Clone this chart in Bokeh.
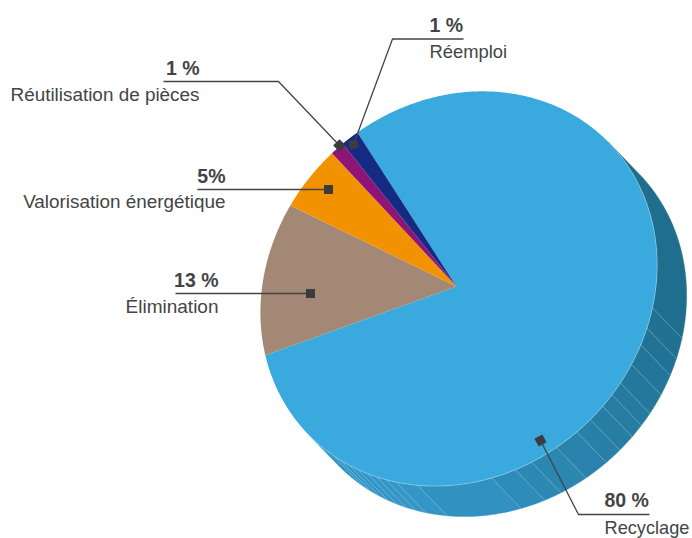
import numpy as np
from bokeh.plotting import figure
from bokeh.models import Range1d
from bokeh.core.properties import value
from bokeh.embed import file_html
from bokeh.resources import INLINE

slice_names = ["Recyclage", "Élimination", "Valorisation énergétique", "Réutilisation de pièces", "Réemploi"]
slice_values = [80.0, 12.4, 5.1, 1.1, 1.4]
slice_colors = ["#3aa9dd", "#a38876", "#f39200", "#8f1478", "#152a82"]
pct_labels = ["80 %", "13 %", "5%", "1 %", "1 %"]

# Side band edges (ellipse parameter, degrees)
band_edges = [0, 54, 60, 65, 71, 77, 81, 85, 90, 95, 102, 110, 115, 122, 143.5, 150, 153, 156, 159, 162, 165, 168, 171, 180]

CX, CY, A, B, OX, OY = 458.3, 288.2, 210.0, 186.0, 29.5, 30.5
AX, AY = 456.0, 286.0
SY = 0.995
START = -79.2
S = np.sqrt(0.5)

def pt(t_deg, dx=0.0, dy=0.0):
    t = np.radians(np.asarray(t_deg, dtype=float))
    u, v = A * np.cos(t), B * np.sin(t)
    return CX + dx + S * (u + v), CY + dy + SY * S * (v - u)

p = figure(width=692, height=538, x_range=Range1d(0, 692), y_range=Range1d(538, 0),
           output_backend="svg", toolbar_location=None, min_border=0,
           x_axis_location=None, y_axis_location=None, outline_line_color=None,
           background_fill_color="white", border_fill_color="white")
p.grid.visible = False
p.styles = {"position": "absolute", "left": "0px", "top": "0px"}

# side of the disc
c0, c1 = np.array([31, 110, 142]), np.array([51, 150, 198])
bx, by, bc = [], [], []
for a0, a1 in zip(band_edges[:-1], band_edges[1:]):
    ts = np.linspace(a0, a1, 24)
    fx, fy = pt(ts)
    kx, ky = pt(ts, OX, OY)
    bx.append(np.r_[fx, kx[::-1]])
    by.append(np.r_[fy, ky[::-1]])
    m = np.clip((0.5 * (a0 + a1) - 50) / 90, 0, 1)
    r, g, b = (c0 + (c1 - c0) * m).astype(int)
    bc.append(f"#{r:02x}{g:02x}{b:02x}")
p.patches(bx, by, fill_color=bc, line_color=bc, line_width=0.4)

# thin light lines between bands
lx, ly = [], []
for a in band_edges[1:-1]:
    x0, y0 = pt(a)
    x1, y1 = pt(a, OX, OY)
    lx.append([x0, x1])
    ly.append([y0, y1])
p.multi_line(lx, ly, line_color="#cfe6f2", line_alpha=0.4, line_width=0.6)

# front slices
apex = START
for val, col in zip(slice_values, slice_colors):
    span = val / sum(slice_values) * 360
    ts = np.linspace(apex, apex + span, max(4, int(span * 2)))
    x, y = pt(ts)
    p.patch(np.r_[AX, x], np.r_[AY, y], fill_color=col, line_color=None)
    apex += span

# light rim on front edge
rx, ry = pt(np.linspace(0, 180, 180))
p.line(rx, ry, line_color="#cfe6f2", line_alpha=0.6, line_width=0.7)

INK = "#444446"
FONT = value("Liberation Sans")

# leader lines
leaders_x = [[649, 578, 540], [175, 310], [197, 328], [163, 278, 339], [463, 392, 353]]
leaders_y = [[514, 514, 440], [293, 293], [189, 189], [81, 81, 145], [38.5, 38.5, 144]]
p.multi_line(leaders_x, leaders_y, line_color=INK, line_width=1.3)

# end markers
mx = [l[-1] for l in leaders_x]
my = [l[-1] for l in leaders_y]
angs = [0.5, 0, 0, 0.785, 0.35]
p.scatter(mx, my, marker="square", size=9, angle=angs, fill_color="#3c3c3e", line_color=None)

# labels
px = [604, 218, 225, 199, 429]
py = [506, 285.5, 181.5, 73.5, 31]
lxs = [604, 218, 225, 199, 429]
lys = [533.5, 312.5, 207.5, 100.5, 57.5]
lsizes = ["18.2px", "19px", "18.9px", "18.9px", "18.4px"]
aligns = ["left", "right", "right", "right", "left"]
SHIFT = -6.5
for i in range(5):
    p.text([px[i]], [py[i] + SHIFT], text=[pct_labels[i]], text_font=FONT, text_font_style="bold",
           text_font_size="19.5px", text_color=INK, text_align=aligns[i], text_baseline="alphabetic")
    p.text([lxs[i]], [lys[i] + SHIFT], text=[slice_names[i]], text_font=FONT,
           text_font_size=lsizes[i], text_color=INK, text_align=aligns[i], text_baseline="alphabetic")

open("out.html", "w").write(file_html(p, INLINE))
